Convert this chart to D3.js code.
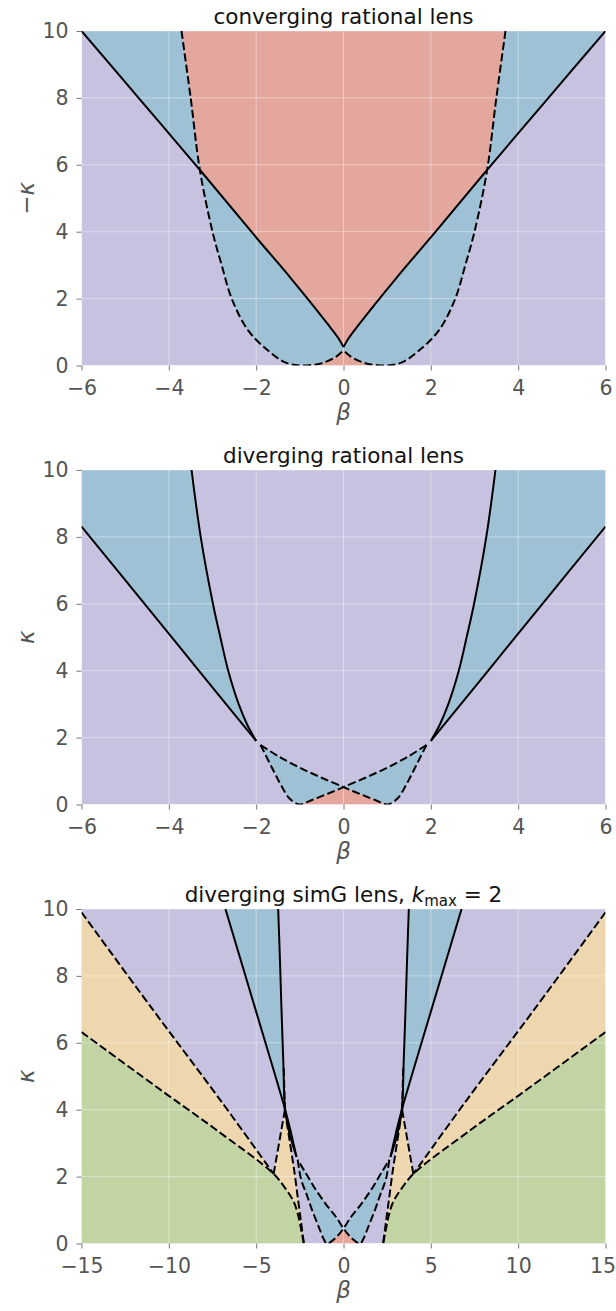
<!DOCTYPE html>
<html>
<head>
<meta charset="utf-8">
<script src="https://cdn.jsdelivr.net/npm/d3@7"></script>
<style>
  body { margin: 0; background: #fff; }
  svg { display: block; font-family: "DejaVu Sans", sans-serif; }
</style>
</head>
<body>
<div id="chart"></div>
<script>
// All curves are given as [beta, kappa] for the left half (beta <= 0);
// the right half of every panel is the mirror image.

// panel 1: converging rational lens
const convSolidOuter = [[-6, 10], [-4.64, 7.92], [-3.29, 5.85]];
const convSolidInner = [[-3.29, 5.85], [-2.11, 4], [-1.2, 2.6], [-0.7, 1.8], [-0.35, 1.22], [-0.12, 0.82], [0, 0.55]];
const convDashUpper = [[-3.71, 10], [-3.5, 8], [-3.29, 5.85]];
const convDashLower = [[-3.29, 5.85], [-3.0, 4], [-2.79, 3], [-2.56, 2], [-2.18, 1.04], [-1.73, 0.45], [-1.35, 0.1], [-1.0, 0]];
const convDashInner = [[-1.0, 0], [-0.6, 0.04], [-0.35, 0.14], [-0.15, 0.28], [0, 0.45]];

// panel 2: diverging rational lens
const divSolidOuter = [[-6, 8.31], [-4.5, 5.91], [-3.3, 3.98], [-2.0, 1.9]];
const divSolidInner = [[-3.48, 10], [-3.27, 8], [-2.99, 6], [-2.82, 5], [-2.64, 4], [-2.4, 3], [-2.21, 2.4], [-2.0, 1.9]];
const divDashX = [[-1.9, 1.78], [-1.5, 1.45], [-1.0, 1.1], [-0.5, 0.8], [0, 0.52]];
const divDashOuter = [[-1.9, 1.78], [-1.73, 1.34], [-1.58, 0.95], [-1.42, 0.55], [-1.23, 0.17], [-1.0, 0]];
const divDashInner = [[-1.0, 0], [-0.75, 0.12], [-0.5, 0.25], [-0.25, 0.38], [0, 0.52]];

// panel 3: diverging simG lens, k_max = 2
const simDashA = [[-15, 9.9], [-11, 7.05], [-7, 4.25], [-4, 2.08]];
const simDashB = [[-15, 6.32], [-10.04, 4.43], [-7.37, 3.43], [-4, 2.08]];
const simDashBTail = [[-4, 2.08], [-3.32, 1.64], [-2.85, 1.25], [-2.6, 0.85], [-2.4, 0.35], [-2.27, 0]];
const simSpikeLeft = [[-4, 2.08], [-3.36, 3.98]];
const simSpikeRight = [[-3.36, 3.98], [-3.07, 3.03], [-2.8, 2.1], [-2.6, 1.3], [-2.42, 0.6], [-2.27, 0]];
const simSpikeUp = [[-3.36, 3.98], [-3.42, 5.3]];
const simSolidOuter = [[-6.76, 10], [-5.04, 7], [-3.34, 4], [-3.0, 3.3], [-2.69, 2.59]];
const simSolidInner = [[-3.74, 10], [-3.64, 8.5], [-3.55, 7], [-3.45, 5.5], [-3.34, 4], [-3.1, 3.3], [-2.69, 2.59]];
const simDashD2 = [[-2.62, 2.5], [-2.21, 2.15], [-1.64, 1.65], [-0.97, 1.15], [-0.41, 0.78], [0, 0.45]];
const simDashD1 = [[-2.62, 2.5], [-2.43, 1.92], [-2.1, 1.45], [-1.8, 1.0], [-1.42, 0.5], [-1.15, 0.15], [-0.95, 0]];
const simDashD3 = [[-0.95, 0], [-0.6, 0.1], [-0.3, 0.25], [0, 0.45]];

const ticks6 = [-6, -4, -2, 0, 2, 4, 6];
const ticks15 = [-15, -10, -5, 0, 5, 10, 15];
const kappaTicks = [0, 2, 4, 6, 8, 10];

const colors = {
    purple: "#c6c2df",
    blue: "#9ec1d5",
    red: "#e4a79e",
    yellow: "#eed7af",
    green: "#c2d4a4"
};

const plotLeft = 81.5;
const plotRight = 605.5;
const plotH = 334.5;

const mirror = pts => pts.map(([b, k]) => [-b, k]);
const rev = pts => pts.slice().reverse();

const svg = d3.select("#chart").append("svg")
    .attr("width", 616)
    .attr("height", 1311);

function drawPanel(cfg) {
    const top = cfg.top;
    const x = d3.scaleLinear().domain(cfg.xDomain).range([plotLeft, plotRight]);
    const y = d3.scaleLinear().domain([0, 10]).range([top + plotH, top]);

    const line = d3.line()
        .x(d => x(d[0]))
        .y(d => y(d[1]))
        .curve(d3.curveCatmullRom.alpha(0.5));
    // a closed region built from several curve pieces joined end to end
    const region = segs => segs.map((s, i) => i ? "L" + line(s).slice(1) : line(s)).join("") + "Z";

    const clipId = "clip" + top;
    svg.append("clipPath").attr("id", clipId)
        .append("rect")
        .attr("x", plotLeft).attr("y", top)
        .attr("width", plotRight - plotLeft).attr("height", plotH);

    const plot = svg.append("g").attr("clip-path", `url(#${clipId})`);

    plot.append("rect")
        .attr("x", plotLeft).attr("y", top)
        .attr("width", plotRight - plotLeft).attr("height", plotH)
        .attr("fill", colors.purple);

    for (const r of cfg.regions) {
        plot.append("path").attr("d", region(r.segs)).attr("fill", colors[r.color]);
    }

    // grid
    plot.selectAll(null).data(cfg.xTicks).join("line")
        .attr("x1", d => x(d)).attr("x2", d => x(d))
        .attr("y1", top).attr("y2", top + plotH)
        .attr("stroke", "#fff").attr("stroke-opacity", 0.4).attr("stroke-width", 1);
    plot.selectAll(null).data(kappaTicks).join("line")
        .attr("x1", plotLeft).attr("x2", plotRight)
        .attr("y1", d => y(d)).attr("y2", d => y(d))
        .attr("stroke", "#fff").attr("stroke-opacity", 0.4).attr("stroke-width", 1);

    for (const s of cfg.solid) {
        plot.append("path").attr("d", line(s))
            .attr("fill", "none").attr("stroke", "#000").attr("stroke-width", 2)
            .attr("stroke-linejoin", "round");
    }
    for (const s of cfg.dashed) {
        plot.append("path").attr("d", line(s))
            .attr("fill", "none").attr("stroke", "#000").attr("stroke-width", 2)
            .attr("stroke-dasharray", "8,3.4");
    }

    // axes
    const xAxis = svg.append("g")
        .attr("transform", `translate(0,${top + plotH})`)
        .call(d3.axisBottom(x).tickValues(cfg.xTicks).tickFormat(d3.format("d")).tickSize(5).tickPadding(9.5));
    const yAxis = svg.append("g")
        .attr("transform", `translate(${plotLeft},0)`)
        .call(d3.axisLeft(y).tickValues(kappaTicks).tickFormat(d3.format("d")).tickSize(5).tickPadding(8));
    for (const ax of [xAxis, yAxis]) {
        ax.select(".domain").remove();
        ax.selectAll(".tick line").attr("stroke", "#666").attr("stroke-width", 0.9);
        ax.selectAll(".tick text")
            .attr("fill", "#555")
            .style("font-family", "'DejaVu Sans', sans-serif")
            .style("font-size", "20.5px");
    }
    // keep the last x label inside the page
    xAxis.selectAll(".tick text")
        .filter(d => d === cfg.xDomain[1] && d >= 10)
        .attr("dx", -3);

    // labels
    svg.append("text")
        .attr("x", (plotLeft + plotRight) / 2).attr("y", top + plotH + 54)
        .attr("text-anchor", "middle").attr("fill", "#555")
        .style("font-size", "23px").style("font-style", "italic")
        .text("β");

    const yl = svg.append("text")
        .attr("transform", `translate(34,${top + plotH / 2}) rotate(-90)`)
        .attr("text-anchor", "middle").attr("fill", "#555")
        .style("font-size", "23px");
    if (cfg.negKappa) yl.append("tspan").text("−");
    yl.append("tspan").style("font-style", "italic").text("κ");

    const t = svg.append("text")
        .attr("x", (plotLeft + plotRight) / 2).attr("y", top - 7.5)
        .attr("text-anchor", "middle").attr("fill", "#111")
        .style("font-size", "21.5px");
    t.append("tspan").text(cfg.title);
    if (cfg.kmax) {
        t.append("tspan").style("font-style", "italic").text("k");
        t.append("tspan").attr("dy", 4.5).style("font-size", "15px").text("max");
        t.append("tspan").attr("dy", -4.5).text(" = 2");
    }
}

drawPanel({
    top: 31,
    xDomain: [-6, 6],
    xTicks: ticks6,
    title: "converging rational lens",
    negKappa: true,
    regions: [
        { color: "blue", segs: [convSolidOuter, rev(convDashUpper)] },
        { color: "blue", segs: [mirror(convSolidOuter), rev(mirror(convDashUpper))] },
        { color: "blue", segs: [convSolidInner, [[0, 0.55], [0, 0.45]], rev(convDashInner), rev(convDashLower)] },
        { color: "blue", segs: [mirror(convSolidInner), [[0, 0.55], [0, 0.45]], rev(mirror(convDashInner)), rev(mirror(convDashLower))] },
        { color: "red", segs: [convDashUpper, convSolidInner, rev(mirror(convSolidInner)), rev(mirror(convDashUpper))] },
        { color: "red", segs: [convDashInner, rev(mirror(convDashInner))] }
    ],
    solid: [
        convSolidOuter.concat(convSolidInner.slice(1)),
        mirror(convSolidOuter.concat(convSolidInner.slice(1)))
    ],
    dashed: [
        convDashUpper.concat(convDashLower.slice(1), convDashInner.slice(1)),
        mirror(convDashUpper.concat(convDashLower.slice(1), convDashInner.slice(1)))
    ]
});

drawPanel({
    top: 470,
    xDomain: [-6, 6],
    xTicks: ticks6,
    title: "diverging rational lens",
    regions: [
        { color: "blue", segs: [[[-6, 10], [-6, 8.31]], divSolidOuter, rev(divSolidInner)] },
        { color: "blue", segs: [[[6, 10], [6, 8.31]], mirror(divSolidOuter), rev(mirror(divSolidInner))] },
        { color: "blue", segs: [divDashX, rev(divDashInner), rev(divDashOuter)] },
        { color: "blue", segs: [mirror(divDashX), rev(mirror(divDashInner)), rev(mirror(divDashOuter))] },
        { color: "red", segs: [divDashInner, rev(mirror(divDashInner))] }
    ],
    solid: [divSolidOuter, divSolidInner, mirror(divSolidOuter), mirror(divSolidInner)],
    dashed: [
        divDashOuter.concat(divDashInner.slice(1), rev(mirror(divDashX)).slice(1)),
        mirror(divDashOuter.concat(divDashInner.slice(1), rev(mirror(divDashX)).slice(1)))
    ]
});

const simLeftLines = [simDashA, simDashB.concat(simDashBTail.slice(1)), simSpikeLeft, simSpikeRight, simSpikeUp,
    simDashD1.concat(simDashD3.slice(1), rev(mirror(simDashD2)).slice(1))];

drawPanel({
    top: 909,
    xDomain: [-15, 15],
    xTicks: ticks15,
    title: "diverging simG lens, ",
    kmax: true,
    regions: [
        { color: "green", segs: [[[-15, 0], [-15, 6.32]], simDashB, simDashBTail] },
        { color: "green", segs: [[[15, 0], [15, 6.32]], mirror(simDashB), mirror(simDashBTail)] },
        { color: "yellow", segs: [simDashA, rev(simDashB)] },
        { color: "yellow", segs: [mirror(simDashA), rev(mirror(simDashB))] },
        { color: "yellow", segs: [simSpikeLeft, simSpikeRight, rev(simDashBTail)] },
        { color: "yellow", segs: [mirror(simSpikeLeft), mirror(simSpikeRight), rev(mirror(simDashBTail))] },
        { color: "blue", segs: [simSolidOuter, rev(simSolidInner)] },
        { color: "blue", segs: [mirror(simSolidOuter), rev(mirror(simSolidInner))] },
        { color: "blue", segs: [simDashD2, rev(simDashD3), rev(simDashD1)] },
        { color: "blue", segs: [mirror(simDashD2), rev(mirror(simDashD3)), rev(mirror(simDashD1))] },
        { color: "red", segs: [simDashD3, rev(mirror(simDashD3))] }
    ],
    solid: [simSolidOuter, simSolidInner, mirror(simSolidOuter), mirror(simSolidInner)],
    dashed: simLeftLines.concat(simLeftLines.map(mirror))
});
</script>
</body>
</html>
